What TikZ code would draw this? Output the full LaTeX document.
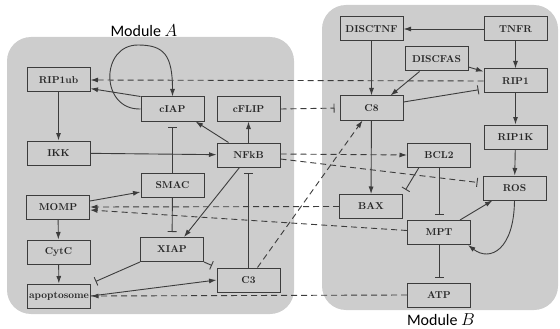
\documentclass[tikz,border=0pt]{standalone}
\usepackage{fontspec}
\newfontfamily\modfont{Carlito}
\usetikzlibrary{arrows.meta}
\definecolor{panelgray}{RGB}{205,205,205}
\definecolor{linegray}{RGB}{60,60,60}

\begin{document}
\begin{tikzpicture}[
        x=1pt, y=-1pt,
        panel/.style={fill=panelgray, rounded corners=24pt},
        box/.style={
            font=\bfseries,
            draw=linegray,
            line width=1pt,
            text=black!85,
            inner sep=0pt,
            minimum width=63pt,
            minimum height=24pt},
        act/.style={draw=linegray, line width=0.9pt, -{Latex[length=7.5pt,width=5pt]}},
        inh/.style={draw=linegray, line width=0.9pt, -{Bar[width=9pt]}, shorten >=5pt},
        weak/.style={dash pattern=on 6pt off 4pt},
        modlabel/.style={font=\modfont\fontsize{16}{18}\selectfont}]
        \useasboundingbox (0,0) rectangle (560,329);
        \fill[panel] (7,37) rectangle (294,314);
        \fill[panel] (322,5) rectangle (558,310);

        \node[modlabel] (modA) at (144,30.5) {Module $A$};
        \node[modlabel] (modB) at (441,320) {Module $B$};

        \node[box] (RIP1ub) at (58.5,80) {RIP1ub};
        \node[box] (cIAP) at (172.5,109) {cIAP};
        \node[box] (cFLIP) at (248.5,109) {cFLIP};
        \node[box] (IKK) at (58.5,153) {IKK};
        \node[box] (NFkB) at (248.5,155) {NFkB};
        \node[box] (SMAC) at (172.5,185) {SMAC};
        \node[box] (MOMP) at (58,207) {MOMP};
        \node[box] (XIAP) at (172,249.5) {XIAP};
        \node[box] (CytC) at (58.5,252) {CytC};
        \node[box] (C3) at (248.5,280) {C3};
        \node[box] (apoptosome) at (59,296) {apoptosome};
        \node[box] (DISCTNF) at (371.5,29) {DISCTNF};
        \node[box] (TNFR) at (515.5,29) {TNFR};
        \node[box] (DISCFAS) at (436.5,59) {DISCFAS};
        \node[box] (RIP1) at (515.5,81) {RIP1};
        \node[box] (C8) at (371.5,108) {C8};
        \node[box] (RIP1K) at (515.5,137) {RIP1K};
        \node[box] (BCL2) at (439,155) {BCL2};
        \node[box] (ROS) at (514.5,188) {ROS};
        \node[box] (BAX) at (371,206.5) {BAX};
        \node[box] (MPT) at (439,232.5) {MPT};
        \node[box] (ATP) at (439,295) {ATP};

        \draw[act, weak] (RIP1.west) -- (RIP1ub.east);
        \draw[act] (cIAP.north west) -- (RIP1ub.-15);
        \draw[act] (cIAP.west) .. controls (100,110) and (100,45) .. (138,45) .. controls (164,45) and (172.5,55) .. (cIAP.north);
        \draw[act] (RIP1ub) -- (IKK);
        \draw[act] (IKK) -- (NFkB);
        \draw[act] ([xshift=-20pt]NFkB.north) -- ([xshift=-9pt]cIAP.south east);
        \draw[act] (NFkB) -- (cFLIP);
        \draw[inh] (SMAC) -- (cIAP);
        \draw[inh] (SMAC) -- (XIAP);
        \draw[act] ([yshift=6pt]MOMP.east) -- ([yshift=-7pt]SMAC.west);
        \draw[act] ([xshift=-9pt]NFkB.south) -- ([xshift=12pt]XIAP.north);
        \draw[act] (MOMP) -- (CytC);
        \draw[act] (CytC) -- (apoptosome);
        \draw[inh] (XIAP.south west) -- (apoptosome.north east);
        \draw[inh] (XIAP.south east) -- (C3.north west);
        \draw[act] (apoptosome.east) -- (C3.west);
        \draw[act, weak] (ATP.west) -- (apoptosome.east);
        \draw[inh] (C3) -- (NFkB);
        \draw[act, weak] ([xshift=9pt]C3.north) -- ([xshift=-9pt]C8.south);
        \draw[act, weak] ([yshift=1pt]NFkB.east) -- (BCL2.west);
        \draw[inh, weak] ([yshift=-4pt]NFkB.east) -- ([yshift=5pt]ROS.west);
        \draw[act, weak] (BAX.west) -- (MOMP.east);
        \draw[act, weak] ([yshift=2pt]MPT.west) -- ([yshift=-3pt]MOMP.east);
        \draw[act] (DISCTNF) -- (C8);
        \draw[act] (TNFR) -- (DISCTNF);
        \draw[act] (TNFR) -- (RIP1);
        \draw[act] ([xshift=-17pt]DISCFAS.south) -- ([xshift=19pt]C8.north);
        \draw[act] ([yshift=-8pt]DISCFAS.east) -- ([yshift=-3pt]RIP1.north west);
        \draw[inh] ([yshift=6pt]C8.east) -- ([yshift=-8pt]RIP1.west);
        \draw[inh, weak] (cFLIP.east) -- (C8.west);
        \draw[act] (RIP1) -- (RIP1K);
        \draw[act] (RIP1K) -- (ROS);
        \draw[act] (C8) -- (BAX);
        \draw[inh] ([xshift=-20pt]BCL2.south) -- (BAX.north east);
        \draw[inh] (BCL2) -- (MPT);
        \draw[act] ([xshift=21pt]MPT.north) -- ([xshift=-22pt]ROS.south);
        \draw[act] (ROS.south) .. controls (514,250) and (490,262) .. ([xshift=-3pt]MPT.south east);
        \draw[inh] (MPT) -- (ATP);
    \end{tikzpicture}
\end{document}
